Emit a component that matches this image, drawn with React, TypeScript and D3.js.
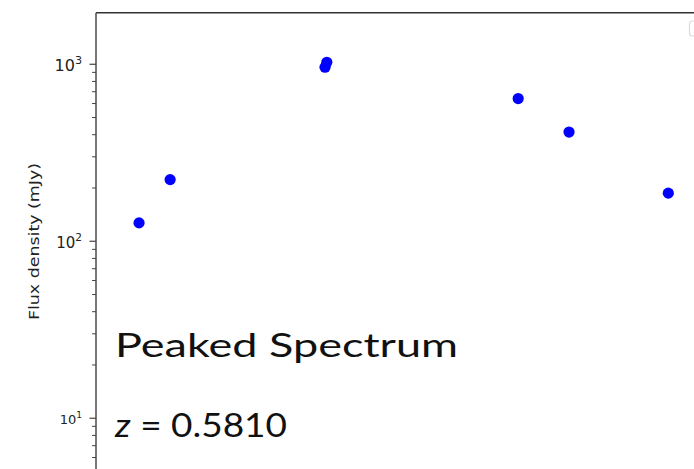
import React from "react";
import * as d3 from "d3";

// Data (x in arbitrary frequency-position units, y in mJy)
const pointX = [7.2, 12.4, 38.3, 38.6, 70.6, 79.1, 95.7];
const fluxValues = [127, 223, 962, 1026, 640, 414, 187];
const majorTicks = [10, 100, 1000];
const majorTickExponents = ["1", "2", "3"];
const yLabel = "Flux density (mJy)";
const annotationTitle = "Peaked Spectrum";
const redshiftLabel = "0.5810";

const W = 694;
const H = 469;

export default function App() {
  const left = 96;
  const top = 12.7;
  const bottom = 475;
  const x = d3.scaleLinear().domain([0, 100]).range([left, W]);
  const y = d3.scaleLog().domain([4.78, 1956]).range([bottom, top]);

  const minorTicks: number[] = [];
  for (let e = 0; e <= 3; e++) {
    for (let m = 2; m <= 9; m++) {
      const v = m * Math.pow(10, e);
      if (v > 4.78 && v < 1956) minorTicks.push(v);
    }
  }
  const labelSizes = [13, 15, 16];

  return (
    <svg
      width={W}
      height={H}
      style={{ position: "fixed", left: 0, top: 0, background: "#fff" }}
    >
      <rect x={0} y={0} width={W} height={H} fill="#fff" />
      {/* legend box fragment */}
      <rect x={689.5} y={21} width={30} height={15} rx={3} fill="#fff" stroke="#dcdcdc" strokeWidth={1.2} />
      {/* spines */}
      <line x1={left} x2={W} y1={top} y2={top} stroke="#333" strokeWidth={1.4} />
      <line x1={left} x2={left} y1={top} y2={H} stroke="#555" strokeWidth={1.6} />
      {/* minor ticks */}
      {minorTicks.map((v, i) => (
        <line key={"m" + i} x1={left - 4} x2={left} y1={y(v)} y2={y(v)} stroke="#444" strokeWidth={1} />
      ))}
      {/* major ticks & labels */}
      {majorTicks.map((v, i) => (
        <g key={"M" + i}>
          <line x1={left - 6.5} x2={left} y1={y(v)} y2={y(v)} stroke="#444" strokeWidth={1.2} />
          <text
            x={82}
            y={y(v) + labelSizes[i] * 0.42}
            textAnchor="end"
            fontFamily="DejaVu Sans"
            fontSize={labelSizes[i]}
            fill="#222"
          >
            10
            <tspan fontSize={labelSizes[i] * 0.7} dy={-labelSizes[i] * 0.42}>
              {majorTickExponents[i]}
            </tspan>
          </text>
        </g>
      ))}
      {/* y label */}
      <text
        transform={`translate(39,241.5) rotate(-90)`}
        textAnchor="middle"
        fontFamily="DejaVu Sans"
        fontSize={13.5}
        fill="#222"
        textLength={157}
        lengthAdjust="spacingAndGlyphs"
      >
        {yLabel}
      </text>
      {/* points */}
      {pointX.map((px, i) => (
        <circle key={"p" + i} cx={x(px)} cy={y(fluxValues[i])} r={5.6} fill="#0000ff" />
      ))}
      {/* annotations */}
      <text
        x={115}
        y={357}
        fontFamily="Lato, 'Open Sans', sans-serif"
        fontSize={33}
        fill="#111"
        textLength={343}
        lengthAdjust="spacingAndGlyphs"
      >
        {annotationTitle}
      </text>
      <text
        x={115}
        y={437}
        fontFamily="Lato, 'Open Sans', sans-serif"
        fontSize={33}
        fill="#111"
        textLength={172}
        lengthAdjust="spacingAndGlyphs"
      >
        <tspan fontStyle="italic">z</tspan>
        <tspan> = {redshiftLabel}</tspan>
      </text>
    </svg>
  );
}
